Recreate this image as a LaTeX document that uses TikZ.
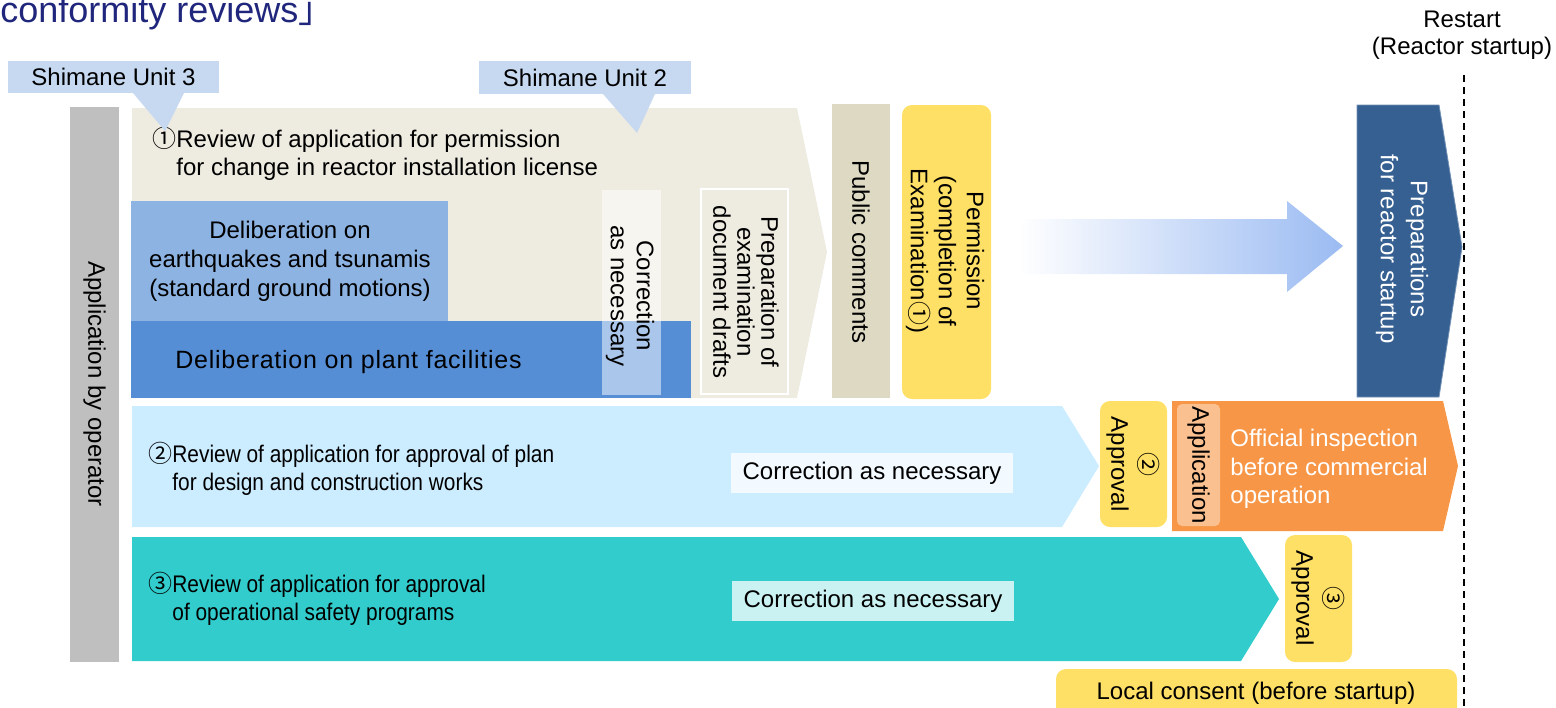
\documentclass[tikz,border=0pt]{standalone}
\usepackage{fontspec}
\setmainfont{Liberation Sans}
\newfontfamily\cjk{Noto Sans CJK JP}
\newfontfamily\narrowfont{Liberation Sans}[FakeStretch=0.87]
\usetikzlibrary{positioning}

\definecolor{titleblue}{RGB}{31,38,124}
\definecolor{callout}{RGB}{198,217,241}
\definecolor{opgray}{RGB}{191,191,191}
\definecolor{beige}{RGB}{238,236,225}
\definecolor{pubbeige}{RGB}{221,217,195}
\definecolor{quakeblue}{RGB}{141,179,226}
\definecolor{plantblue}{RGB}{85,142,213}
\definecolor{permyellow}{RGB}{255,224,102}
\definecolor{arrowblue}{RGB}{155,187,242}
\definecolor{prepblue}{RGB}{54,96,146}
\definecolor{rowblue}{RGB}{204,236,255}
\definecolor{rowteal}{RGB}{51,204,204}
\definecolor{insporange}{RGB}{247,150,70}
\definecolor{applorange}{RGB}{250,192,143}

\newcommand{\cnum}[1]{{\cjk #1}}

\begin{document}
\begin{tikzpicture}[x=0.5pt,y=-0.5pt,
	txt/.style={inner sep=0pt, font=\fontsize{12}{14}\selectfont, align=center},
	vtxt/.style={txt, rotate=-90},
	narrowtxt/.style={inner sep=0pt, font=\narrowfont\fontsize{12}{14}\selectfont, align=left, anchor=west}]
		
		\useasboundingbox (0,0) rectangle (1556,707);
		\clip (0,0) rectangle (1556,707);
		
		% title (cut at the top)
		\node[anchor=base west, inner sep=0pt, font=\fontsize{18}{20}\selectfont, text=titleblue] (title) at (0,22) {conformity reviews\cnum{」}};
		
		% applicant bar
		\fill[opgray] (70,107) rectangle (119,662);
		\node[vtxt] (applop) at (94.5,384) {Application by operator};
		
		% row 1
		\fill[beige] (132,108) -- (797,108) -- (827,252) -- (797,398) -- (132,398) -- cycle;
		\fill[quakeblue] (131,201) rectangle (448,321);
		\fill[plantblue] (131,321) rectangle (691,398);
		\fill[white, opacity=0.5] (602,190) rectangle (661,395);
		\filldraw[fill=beige, draw=white, line width=1pt] (701,189) rectangle (788,394);
		\fill[pubbeige] (832,104) rectangle (890,398);
		\fill[permyellow, rounded corners=5pt] (902,105) rectangle (991,399);
		
		\node[txt, anchor=west, align=left] (reviewone) at (152,154) {\cnum{①}Review of application for permission\\\hphantom{\cnum{①}}for change in reactor installation license};
		\node[txt, font=\fontsize{12}{14.5}\selectfont] (quake) at (290,261) {Deliberation on\\earthquakes and tsunamis\\(standard ground motions)};
		\node[txt, anchor=west, font=\fontsize{12.5}{15}\selectfont\addfontfeature{LetterSpace=3}] (plant) at (175,362) {Deliberation on plant facilities};
		\node[vtxt, font=\fontsize{12}{13}\selectfont] (corrone) at (630,296) {Correction\\as necessary};
		\node[vtxt, font=\fontsize{12}{12}\selectfont] (prepdraft) at (746,292) {Preparation of\\examination\\document drafts};
		\node[vtxt] (pubcom) at (861,252) {Public comments};
		\node[vtxt] (permit) at (945,251) {Permission\\(completion of\\Examination\cnum{①})};
		
		% callouts
		\fill[callout] (8,61) rectangle (219,93);
		\fill[callout] (133,93) -- (184,93) -- (165,131) -- cycle;
		\node[txt] (unitthree) at (113.5,77) {Shimane Unit 3};
		\fill[callout] (479,61) rectangle (691,94);
		\fill[callout] (603,94) -- (655,94) -- (637,133) -- cycle;
		\node[txt] (unittwo) at (585,77.5) {Shimane Unit 2};
		
		% block arrow to startup
		\shade[left color=white, right color=arrowblue] (1018,219) -- (1287,219) -- (1287,201) -- (1343,246) -- (1287,292) -- (1287,274) -- (1018,274) -- cycle;
		
		\filldraw[fill=prepblue, draw=prepblue!70!white, line width=0.4pt] (1357,105) -- (1439,105) -- (1462,247) -- (1439,397) -- (1357,397) -- cycle;
		\node[vtxt, text=white, font=\fontsize{12}{15}\selectfont] (prepstart) at (1402,249) {Preparations\\for reactor startup};
		
		% restart line
		\node[txt, font=\fontsize{12}{13.5}\selectfont] (restart) at (1462,35) {Restart\\(Reactor startup)};
		\coordinate (dashtop) at (1464,75);
		\coordinate (dashend) at (1464,707);
		\draw[dashed, line width=0.7pt, dash pattern=on 3.5pt off 2.5pt] (dashtop) -- (dashend);
		
		% row 2
		\fill[rowblue] (132,406) -- (1062,406) -- (1099,466) -- (1062,527) -- (132,527) -- cycle;
		\node[narrowtxt] (reviewtwo) at (148,468.5) {\cnum{②}Review of application for approval of plan\\\hphantom{\cnum{②}}for design and construction works};
		\fill[white, opacity=0.75] (731,453) rectangle (1013,493);
		\node[txt] (corrtwo) at (872,473) {Correction as necessary};
		\fill[permyellow, rounded corners=5pt] (1100,401) rectangle (1167,527);
		\node[vtxt] (approvetwo) at (1133,464) {\cnum{②}\\Approval};
		\fill[insporange] (1172,401) -- (1443,401) -- (1458,466) -- (1443,531) -- (1172,531) -- cycle;
		\fill[applorange, rounded corners=2.5pt] (1177,404) rectangle (1220,526);
		\node[vtxt] (inspappl) at (1198.5,465) {Application};
		\node[txt, anchor=west, align=left, text=white, font=\fontsize{12}{14.25}\selectfont] (inspect) at (1230,469) {Official inspection\\before commercial\\operation};
		
		% row 3
		\fill[rowteal] (132,537) -- (1241,537) -- (1279,599) -- (1241,661) -- (132,661) -- cycle;
		\node[narrowtxt] (reviewthree) at (148,599) {\cnum{③}Review of application for approval\\\hphantom{\cnum{③}}of operational safety programs};
		\fill[white, opacity=0.75] (732,581) rectangle (1014,621);
		\node[txt] (corrthree) at (873,601) {Correction as necessary};
		\fill[permyellow, rounded corners=5pt] (1285,535) rectangle (1352,662);
		\node[vtxt] (approvethree) at (1318,598) {\cnum{③}\\Approval};
		
		% local consent
		\fill[permyellow, rounded corners=5pt] (1056,669) rectangle (1457,730);
		\node[txt] (consent) at (1256,693) {Local consent (before startup)};
		
	\end{tikzpicture}
\end{document}
